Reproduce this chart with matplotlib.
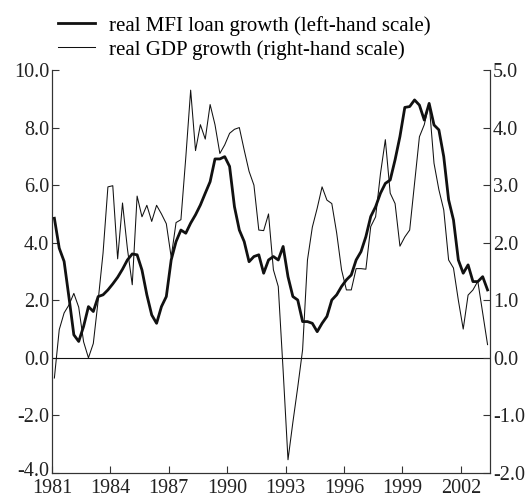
import numpy as np
import matplotlib
matplotlib.use("Agg")
import matplotlib.pyplot as plt
from matplotlib.transforms import ScaledTranslation

plt.rcParams["font.family"] = ["Liberation Serif", "DejaVu Serif"]
plt.rcParams["axes.unicode_minus"] = False

# ------- DATA (quarterly, 1981Q1 - 2003Q2) -------
loan_growth = [
    4.85, 3.81, 3.35, 2.10, 0.80, 0.57, 1.09, 1.78, 1.61, 2.13,
    2.19, 2.36, 2.57, 2.80, 3.08, 3.40, 3.61, 3.58, 3.05, 2.19,
    1.49, 1.20, 1.78, 2.13, 3.40, 4.04, 4.44, 4.33, 4.68, 4.97,
    5.31, 5.72, 6.12, 6.91, 6.91, 6.99, 6.65, 5.25, 4.44, 4.04,
    3.34, 3.52, 3.58, 2.94, 3.40, 3.52, 3.40, 3.87, 2.82, 2.13,
    2.01, 1.26, 1.26, 1.20, 0.91, 1.20, 1.44, 2.01, 2.19, 2.48,
    2.71, 2.88, 3.40, 3.69, 4.21, 4.91, 5.25, 5.72, 6.06, 6.18,
    6.88, 7.69, 8.70, 8.73, 8.96, 8.78, 8.26, 8.84, 8.09, 7.92,
    6.99, 5.49, 4.79, 3.40, 2.94, 3.23, 2.65, 2.65, 2.82, 2.36,
]
gdp_growth = [
    -0.35, 0.49, 0.78, 0.92, 1.12, 0.88, 0.28, 0.00, 0.25, 1.00,
    1.82, 2.97, 2.99, 1.72, 2.69, 1.90, 1.27, 2.81, 2.45, 2.65,
    2.37, 2.65, 2.50, 2.33, 1.75, 2.35, 2.40, 3.48, 4.65, 3.60,
    4.05, 3.80, 4.40, 4.05, 3.55, 3.70, 3.90, 3.97, 4.00, 3.61,
    3.24, 3.00, 2.22, 2.21, 2.50, 1.53, 1.24, -0.22, -1.77, -1.12,
    -0.51, 0.14, 1.70, 2.27, 2.60, 2.97, 2.74, 2.68, 2.17, 1.53,
    1.18, 1.18, 1.55, 1.55, 1.54, 2.28, 2.45, 3.20, 3.79, 2.86,
    2.68, 1.94, 2.10, 2.22, 3.03, 3.84, 4.05, 4.42, 3.38, 2.92,
    2.57, 1.70, 1.56, 1.00, 0.50, 1.09, 1.18, 1.33, 0.78, 0.23,
]
year_ticks = [1981, 1984, 1987, 1990, 1993, 1996, 1999, 2002]
left_ticks = [-4, -2, 0, 2, 4, 6, 8, 10]
right_ticks = [-2, -1, 0, 1, 2, 3, 4, 5]

# quarter mid-points
x = 1981.125 + 0.25 * np.arange(len(loan_growth))

fig = plt.figure(figsize=(5.3, 5.0), dpi=100)
ax = fig.add_axes([0.098, 0.054, 0.8265, 0.806])
ax2 = ax.twinx()

l1, = ax.plot(x, loan_growth, color="#111111", lw=2.0, label="real MFI loan growth (left-hand scale)")
l2, = ax2.plot(x, gdp_growth, color="#111111", lw=0.75, label="real GDP growth (right-hand scale)")
ax.axhline(0, color="#111111", lw=0.8)

ax.set_xlim(1981, 2003.5)
ax.set_ylim(-4, 10)
ax2.set_ylim(-2, 5)
ax.set_xticks(year_ticks)
ax.set_yticks(left_ticks)
ax2.set_yticks(right_ticks)
ax.set_yticklabels([f"{v:.1f}" for v in left_ticks])
ax2.set_yticklabels([f"{v:.1f}" for v in right_ticks])

for a in (ax, ax2):
    a.spines["top"].set_visible(False)
    for s in a.spines.values():
        s.set_color("#333333")
        s.set_linewidth(0.8)
    a.tick_params(direction="in", length=5, width=0.8, color="#333333",
                  labelsize=14.5, labelcolor="#222222", pad=2)
ax.tick_params(axis="x", pad=4)

# nudge the lowest left label up so it clears "1981"
bottom_lab = ax.yaxis.get_major_ticks()[0].label1
bottom_lab.set_transform(bottom_lab.get_transform()
                         + ScaledTranslation(0, 3 / 72, fig.dpi_scale_trans))

fig.legend(handles=[l1, l2], loc="upper left", bbox_to_anchor=(0.094, 0.985),
           frameon=False, fontsize=15, handlelength=1.75, handletextpad=0.7,
           labelspacing=0.2, borderaxespad=0)

fig.savefig("out.png", dpi=100)
